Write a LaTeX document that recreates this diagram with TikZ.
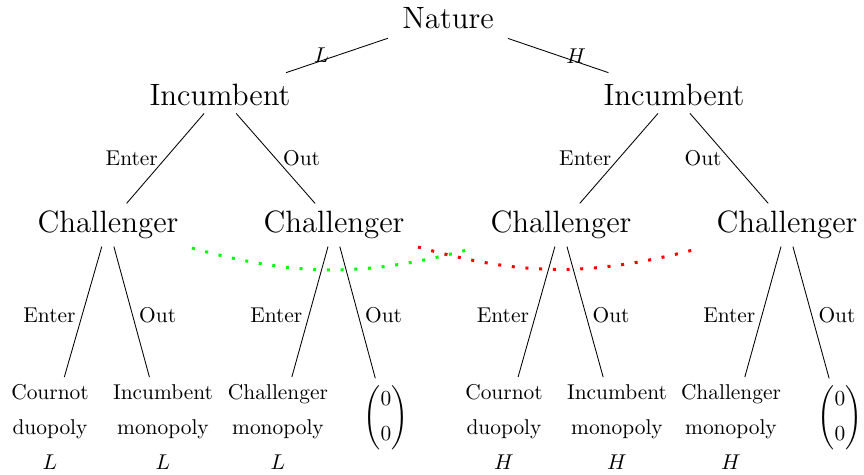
\documentclass[tikz,border=0pt]{standalone}
\usepackage{amsmath}
\begin{document}
\begin{tikzpicture}[x=0.467pt,y=0.467pt,
    player/.style={font=\Large},
    leaf/.style={align=center},
    topedge/.style={shorten <=3.3pt, shorten >=5.7pt},
    infoL/.style={color=green,line width=1.4pt,dash pattern=on 1.4pt off 5pt},
    infoH/.style={color=red,line width=1.4pt,dash pattern=on 1.4pt off 5pt}]
          \useasboundingbox (0,0) rectangle (864,-475);
          \node[player] (nat) at (448,-18) {Nature};
          \node[player] (incL) at (220,-95) {Incumbent};
          \node[player] (incH) at (674,-95) {Incumbent};
          \node[player] (chA) at (108,-225) {Challenger};
          \node[player] (chB) at (334,-225) {Challenger};
          \node[player] (chC) at (561,-225) {Challenger};
          \node[player] (chD) at (787,-225) {Challenger};
          \node[leaf] (lfA) at (50,-427) {Cournot\\[4.3pt]duopoly\\[4.3pt]$L$};
          \node[leaf] (lfB) at (163,-427) {Incumbent\\[4.3pt]monopoly\\[4.3pt]$L$};
          \node[leaf] (lfC) at (278,-427) {Challenger\\[4.3pt]monopoly\\[4.3pt]$L$};
          \node (lfD) at (386,-418) {$\begin{pmatrix}0\\[4.3pt]0\end{pmatrix}$};
          \node[leaf] (lfE) at (504,-427) {Cournot\\[4.3pt]duopoly\\[4.3pt]$H$};
          \node[leaf] (lfF) at (617,-427) {Incumbent\\[4.3pt]monopoly\\[4.3pt]$H$};
          \node[leaf] (lfG) at (731,-427) {Challenger\\[4.3pt]monopoly\\[4.3pt]$H$};
          \node (lfH) at (840,-418) {$\begin{pmatrix}0\\[4.3pt]0\end{pmatrix}$};
          \coordinate (gA) at (192,-248);
          \coordinate (gB) at (467,-250);
          \coordinate (rA) at (418,-247);
          \coordinate (rB) at (693,-250);
          \draw[topedge] (nat) -- (incL) node[pos=0.61, yshift=2.4pt] {$L$};
          \draw[topedge] (nat) -- (incH) node[pos=0.63, yshift=2.4pt] {$H$};
          \draw (incL) -- (chA) node[midway, left] {Enter};
          \draw (incL) -- (chB) node[midway, right] {Out};
          \draw (incH) -- (chC) node[midway, left] {Enter};
          \draw (incH) -- (chD) node[midway, left] {Out};
          \draw (chA) -- (lfA) node[midway, left, yshift=-1.5pt] {Enter};
          \draw (chA) -- (lfB) node[midway, right, yshift=-1.5pt] {Out};
          \draw (chB) -- (lfC) node[midway, left, yshift=-1.5pt] {Enter};
          \draw (chB) -- (lfD) node[midway, right, yshift=-1.5pt] {Out};
          \draw (chC) -- (lfE) node[midway, left, yshift=-1.5pt] {Enter};
          \draw (chC) -- (lfF) node[midway, right, yshift=-1.5pt] {Out};
          \draw (chD) -- (lfG) node[midway, left, yshift=-1.5pt] {Enter};
          \draw (chD) -- (lfH) node[midway, right, yshift=-1.5pt] {Out};
          \draw[infoL] (gA) to[bend right=15] (gB);
          \draw[infoH] (rA) to[bend right=15] (rB);
        \end{tikzpicture}
\end{document}
